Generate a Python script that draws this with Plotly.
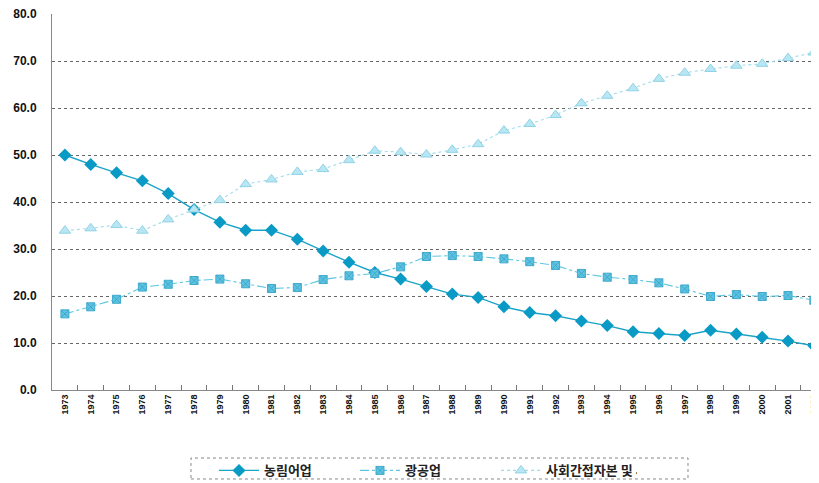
import plotly.graph_objects as go

years = [str(y) for y in range(1973, 2003)]
agri = [50.0, 48.0, 46.2, 44.5, 41.8, 38.4, 35.7, 34.0, 34.0, 32.1, 29.6, 27.2, 25.0, 23.6,
        22.0, 20.4, 19.7, 17.7, 16.5, 15.8, 14.7, 13.7, 12.4, 12.0, 11.6, 12.7, 11.9, 11.2, 10.4, 9.4]
mining = [16.2, 17.7, 19.3, 21.9, 22.5, 23.3, 23.6, 22.6, 21.6, 21.8, 23.5, 24.3, 24.8, 26.2,
          28.4, 28.6, 28.4, 27.9, 27.3, 26.5, 24.8, 24.0, 23.5, 22.8, 21.5, 19.9, 20.3, 19.9, 20.1, 19.1]
service = [33.9, 34.4, 35.1, 33.9, 36.3, 38.4, 40.4, 43.8, 44.8, 46.4, 47.0, 48.9, 50.9, 50.6,
           50.1, 51.1, 52.3, 55.2, 56.6, 58.5, 61.0, 62.6, 64.2, 66.2, 67.5, 68.3, 69.0, 69.4, 70.6, 71.8]
names = ["농림어업", "광공업", "사회간접자본 및 서비스업"]

idx = list(range(len(years)))

fig = go.Figure()
fig.add_trace(go.Scatter(x=idx, y=agri, name=names[0], mode="lines+markers",
                         line=dict(color="#1aa3c8", width=1.4),
                         marker=dict(symbol="diamond", size=10, color="#0a9ac6")))
fig.add_trace(go.Scatter(x=idx, y=mining, name=names[1], mode="lines+markers",
                         line=dict(color="#5cc6e0", width=1.1, dash="dashdot"),
                         marker=dict(symbol="square-x", size=8, color="#5ec3e0",
                                     line=dict(color="#3fa9cc", width=1))))
fig.add_trace(go.Scatter(x=idx, y=service, name=names[2], mode="lines+markers",
                         line=dict(color="#9fdcec", width=1.1, dash="dot"),
                         marker=dict(symbol="triangle-up", size=10, color="#b8e6f2",
                                     line=dict(color="#8fd2e6", width=1))))

# dotted frame around the legend (paper coords)
fig.add_shape(type="rect", xref="paper", yref="paper",
              x0=0.1812, x1=0.8292, y0=-0.2367, y1=-0.1809,
              line=dict(color="#888", width=1, dash="dot"), fillcolor="rgba(0,0,0,0)")

fig.update_layout(
    width=811, height=475,
    margin=dict(l=44, r=0, t=6, b=93),
    paper_bgcolor="white", plot_bgcolor="white",
    font=dict(family="Liberation Sans, Arial, sans-serif", color="#222"),
    legend=dict(orientation="h", xref="container", yref="container",
                x=0.254, xanchor="left", y=0.058, yanchor="top",
                borderwidth=0, bgcolor="rgba(0,0,0,0)",
                font=dict(size=13, family="Noto Sans CJK KR", weight="bold", color="#222"),
                itemwidth=40, entrywidth=86),
    showlegend=True,
)
fig.update_xaxes(range=[-0.5, 29.2], tickangle=-90, automargin=False,
                 tickvals=idx, ticktext=years, ticks="", ticklabeloverflow="allow",
                 tickfont=dict(size=9, family="Liberation Sans", color="#111", weight="bold"),
                 showgrid=False, showline=True, linecolor="#888", linewidth=1, zeroline=False,
                 minor=dict(tickvals=[i + 0.5 for i in idx], ticks="inside", ticklen=5,
                            tickcolor="#777", showgrid=False))
fig.update_yaxes(range=[0, 80], dtick=10, tickformat=".1f", automargin=False,
                 ticklabeloverflow="allow",
                 tickfont=dict(size=12, family="Liberation Sans", color="#111", weight="bold"),
                 showgrid=True, gridcolor="#666", gridwidth=1, griddash="dot",
                 showline=True, linecolor="#888", linewidth=1, zeroline=False,
                 ticks="", ticklabelstandoff=12)
fig.write_html("out.html")
